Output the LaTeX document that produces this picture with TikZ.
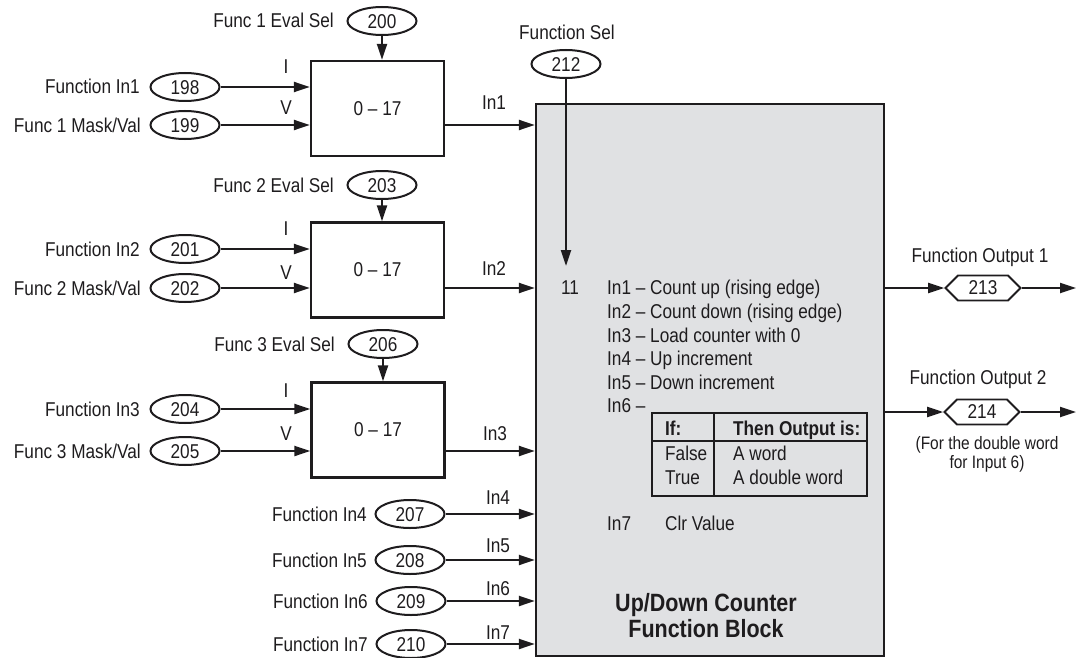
\documentclass[tikz,border=0pt]{standalone}
\usepackage{fontspec}
\setmainfont[FakeStretch=0.86]{Liberation Sans}
\usetikzlibrary{arrows.meta,shapes.geometric,shapes.symbols}
\definecolor{mainfill}{RGB}{224,225,227}
\definecolor{ink}{RGB}{30,28,30}
\begin{document}
\begin{tikzpicture}[x=1pt,y=-1pt,
  every node/.style={font=\fontsize{20}{24}\selectfont, text=ink},
  lbl/.style={inner sep=0pt, yshift=-7pt},
  num/.style={draw=ink, ellipse, line width=2pt, minimum width=69pt, minimum height=28pt, inner sep=0pt, text height=15pt},
  blk/.style={draw=ink, line width=2.4pt, minimum width=133pt, minimum height=95pt, inner sep=0pt},
  arr/.style={draw=ink, line width=2.2pt, -{Triangle[length=16pt,width=10pt]}},
  hex/.style={draw=ink, signal, signal to=west and east, signal from=nowhere, line width=1.8pt, minimum width=75pt, minimum height=25pt, inner sep=0pt},
  small/.style={font=\fontsize{18}{20}\selectfont, inner sep=0pt, yshift=-6.4pt},
  title/.style={font=\fontsize{25}{28}\selectfont\bfseries, inner sep=0pt, yshift=-9pt}
]
\useasboundingbox (0,0) rectangle (1081,658);

% main function block
\node[draw=ink, fill=mainfill, line width=2.4pt, minimum width=348pt, minimum height=552pt, inner sep=0pt] (main) at (710,380) {};

% ---------- block 1 ----------
\node[blk] (b1) at (377.5,108.5) {0 – 17};
\node[num] (e200) at (382,21) {200};
\node[lbl, anchor=base east] (t200) at (334,21) {Func 1 Eval Sel};
\draw[arr] (e200) -- (e200 |- b1.north);
\node[num] (e198) at (185,87) {198};
\node[lbl, anchor=base east] (t198) at (140,87) {Function In1};
\node[num] (e199) at (185,125) {199};
\node[lbl, anchor=base east] (t199) at (141,125) {Func 1 Mask/Val};
\draw[arr] (e198) -- (e198 -| b1.west);
\draw[arr] (e199) -- (e199 -| b1.west);
\node[lbl, anchor=base] (i1) at (286,67) {I};
\node[lbl, anchor=base] (v1) at (286,108) {V};
\draw[arr] (b1.east |- e199) -- (main.west |- e199);
\node[lbl, anchor=base] (l1) at (494,103) {In1};

% ---------- block 2 ----------
\node[blk] (b2) at (377.5,270) {0 – 17};
\node[num] (e203) at (382,185) {203};
\node[lbl, anchor=base east] (t203) at (334,185) {Func 2 Eval Sel};
\draw[arr] (e203) -- (e203 |- b2.north);
\node[num] (e201) at (185,249) {201};
\node[lbl, anchor=base east] (t201) at (140,249) {Function In2};
\node[num] (e202) at (185,288) {202};
\node[lbl, anchor=base east] (t202) at (141,288) {Func 2 Mask/Val};
\draw[arr] (e201) -- (e201 -| b2.west);
\draw[arr] (e202) -- (e202 -| b2.west);
\node[lbl, anchor=base] (i2) at (286,228) {I};
\node[lbl, anchor=base] (v2) at (286,272) {V};
\draw[arr] (b2.east |- e202) -- (main.west |- e202);
\node[lbl, anchor=base] (l2) at (494,268) {In2};

% ---------- block 3 ----------
\node[blk] (b3) at (378,430) {0 – 17};
\node[num] (e206) at (383,344) {206};
\node[lbl, anchor=base east] (t206) at (335,344) {Func 3 Eval Sel};
\draw[arr] (e206) -- (e206 |- b3.north);
\node[num] (e204) at (185,409) {204};
\node[lbl, anchor=base east] (t204) at (140,409) {Function In3};
\node[num] (e205) at (185,451) {205};
\node[lbl, anchor=base east] (t205) at (141,451) {Func 3 Mask/Val};
\draw[arr] (e204) -- (e204 -| b3.west);
\draw[arr] (e205) -- (e205 -| b3.west);
\node[lbl, anchor=base] (i3) at (286,390) {I};
\node[lbl, anchor=base] (v3) at (286,433) {V};
\draw[arr] (b3.east |- e205) -- (main.west |- e205);
\node[lbl, anchor=base] (l3) at (495,433) {In3};

% ---------- direct inputs ----------
\node[num] (e207) at (410,514) {207};
\node[lbl, anchor=base east] (t207) at (367,514) {Function In4};
\draw[arr] (e207) -- (main.west |- e207);
\node[lbl, anchor=base] (l4) at (498,497) {In4};
\node[num] (e208) at (410,560) {208};
\node[lbl, anchor=base east] (t208) at (367,560) {Function In5};
\draw[arr] (e208) -- (main.west |- e208);
\node[lbl, anchor=base] (l5) at (498,545) {In5};
\node[num] (e209) at (411,601) {209};
\node[lbl, anchor=base east] (t209) at (368,601) {Function In6};
\draw[arr] (e209) -- (main.west |- e209);
\node[lbl, anchor=base] (l6) at (498,588) {In6};
\node[num] (e210) at (411,644) {210};
\node[lbl, anchor=base east] (t210) at (368,644) {Function In7};
\draw[arr] (e210) -- (main.west |- e210);
\node[lbl, anchor=base] (l7) at (498,632) {In7};

% ---------- function select ----------
\node[num] (e212) at (566,64) {212};
\node[lbl, anchor=base] (t212) at (567,33) {Function Sel};
\coordinate (c11) at (566,266);
\draw[arr] (e212) -- (c11);

% ---------- block contents ----------
\node[lbl, anchor=base west] (n11) at (561,287) {11};
\node[lbl, anchor=base west] (d1) at (607,287) {In1 – Count up (rising edge)};
\node[lbl, anchor=base west] (d2) at (607,311) {In2 – Count down (rising edge)};
\node[lbl, anchor=base west] (d3) at (607,335) {In3 – Load counter with 0};
\node[lbl, anchor=base west] (d4) at (607,358) {In4 – Up increment};
\node[lbl, anchor=base west] (d5) at (607,382) {In5 – Down increment};
\node[lbl, anchor=base west] (d6) at (607,405) {In6 –};
\draw[draw=ink, line width=1.3pt] (652,413) rectangle (867,496);
\draw[draw=ink, line width=1.3pt] (652,441) -- (867,441);
\draw[draw=ink, line width=1.3pt] (714,413) -- (714,496);
\node[lbl, anchor=base west, font=\fontsize{20}{24}\selectfont\bfseries] (th1) at (665,428) {If:};
\node[lbl, anchor=base west, font=\fontsize{20}{24}\selectfont\bfseries] (th2) at (733,428) {Then Output is:};
\node[lbl, anchor=base west] (tf) at (665,453) {False};
\node[lbl, anchor=base west] (tt) at (665,477) {True};
\node[lbl, anchor=base west] (tw) at (733,453) {A word};
\node[lbl, anchor=base west] (tdw) at (733,477) {A double word};
\node[lbl, anchor=base west] (d7) at (607,523) {In7};
\node[lbl, anchor=base west] (d7b) at (665,523) {Clr Value};
\node[title, anchor=base] (ti1) at (706,602) {Up/Down Counter};
\node[title, anchor=base] (ti2) at (706,628) {Function Block};

% ---------- outputs ----------
\node[hex] (h213) at (983,288) {213};
\node[lbl, anchor=base] (to1) at (980,255) {Function Output 1};
\draw[arr] (main.east |- h213) -- (h213.west);
\coordinate (o1) at (1076,288);
\draw[arr] (h213.east) -- (o1);
\node[hex] (h214) at (982,412) {214};
\node[lbl, anchor=base] (to2) at (978,377) {Function Output 2};
\draw[arr] (main.east |- h214) -- (h214.west);
\coordinate (o2) at (1076,412);
\draw[arr] (h214.east) -- (o2);
\node[small, anchor=base] (nt1) at (987,443) {(For the double word};
\node[small, anchor=base] (nt2) at (987,462) {for Input 6)};
\end{tikzpicture}
\end{document}
